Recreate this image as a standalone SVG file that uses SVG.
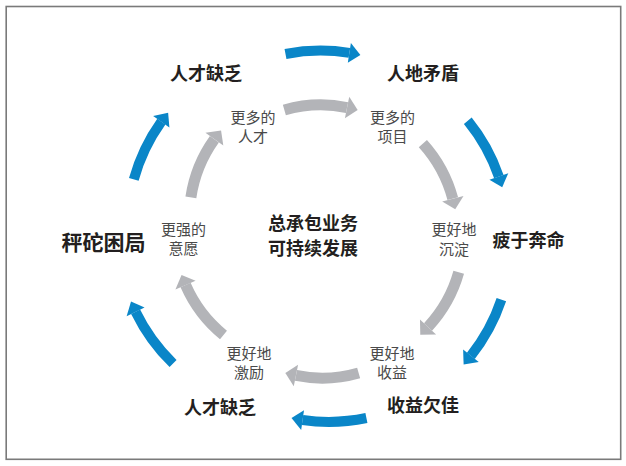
<svg xmlns="http://www.w3.org/2000/svg" width="626" height="466" viewBox="0 0 626 466">
<style>
.bg{fill:#fff}
.frame{fill:none;stroke:#7a7a7a;stroke-width:1.6}
.blue{fill:none;stroke:#0a86c8;stroke-width:10}
.blueh{fill:#0a86c8}
.gray{fill:none;stroke:#b3b4b8;stroke-width:11}
.grayh{fill:#b3b4b8}
.big{font-family:"Noto Sans CJK SC","Noto Sans",sans-serif;font-weight:700;font-size:18px;fill:#231f20;text-anchor:middle}
.small{font-family:"Noto Sans CJK SC","Noto Sans",sans-serif;font-weight:400;font-size:15px;fill:#4a4a4a;text-anchor:middle}
</style>
<defs>
<g id="barrow">
<path class="blue" d="M -35.1 -180.6 A 184 184 0 0 1 28.8 -181.7"/>
<polygon class="blueh" points="27.2,-171.9 30.3,-191.6 39.8,-179.6"/>
</g>
<g id="garrow">
<path class="gray" d="M -34.4 -128.5 A 133 133 0 0 1 28.3 -129.9"/>
<polygon class="grayh" points="26.0,-119.2 30.7,-140.7 38.9,-127.2"/>
</g>
</defs>
<rect class="bg" x="0" y="0" width="626" height="466"/>
<rect class="frame" x="6.2" y="6.5" width="614.5" height="452.8"/>
<g id="connectors">
<use href="#barrow" transform="translate(320.6,234.6) rotate(0)"/>
<use href="#barrow" transform="translate(325,236.8) rotate(61.9)"/>
<use href="#barrow" transform="translate(326.9,241.3) rotate(119.5)"/>
<use href="#barrow" transform="translate(328.8,237.9) rotate(179.2)"/>
<use href="#barrow" transform="translate(301.1,231.4) rotate(235.1)"/>
<use href="#barrow" transform="translate(311.1,228.5) rotate(296.5)"/>
<use href="#garrow" transform="translate(321,237.9) rotate(-1)"/>
<use href="#garrow" transform="translate(324.3,232.9) rotate(62.8)"/>
<use href="#garrow" transform="translate(330.6,236.5) rotate(120.6)"/>
<use href="#garrow" transform="translate(322,245.1) rotate(179)"/>
<use href="#garrow" transform="translate(307.4,231.8) rotate(234.1)"/>
<use href="#garrow" transform="translate(322.5,216.6) rotate(293.3)"/>
</g>
<g id="n-center"><text class="big" x="313" y="230">总承包业务</text><text class="big" x="313" y="254.5">可持续发展</text></g>
<g id="n-talent-top"><text class="big" x="206" y="79.5">人才缺乏</text></g>
<g id="n-land"><text class="big" x="423" y="79.5">人地矛盾</text></g>
<g id="n-busy"><text class="big" x="528.5" y="246.5">疲于奔命</text></g>
<g id="n-income"><text class="big" x="423" y="411.5">收益欠佳</text></g>
<g id="n-talent-bottom"><text class="big" x="220" y="413.5">人才缺乏</text></g>
<g id="n-weight"><text class="big" style="font-size:21px" x="103.5" y="249.5">秤砣困局</text></g>
<g id="s-talent"><text class="small" x="253" y="122.5">更多的</text><text class="small" x="253" y="142">人才</text></g>
<g id="s-project"><text class="small" x="392.5" y="122.5">更多的</text><text class="small" x="392.5" y="142">项目</text></g>
<g id="s-settle"><text class="small" x="454" y="235">更好地</text><text class="small" x="454" y="254.5">沉淀</text></g>
<g id="s-will"><text class="small" x="183.5" y="234.5">更强的</text><text class="small" x="183.5" y="254">意愿</text></g>
<g id="s-motivate"><text class="small" x="249" y="358.5">更好地</text><text class="small" x="249" y="378">激励</text></g>
<g id="s-income"><text class="small" x="392" y="358.5">更好地</text><text class="small" x="392" y="378">收益</text></g>
</svg>
